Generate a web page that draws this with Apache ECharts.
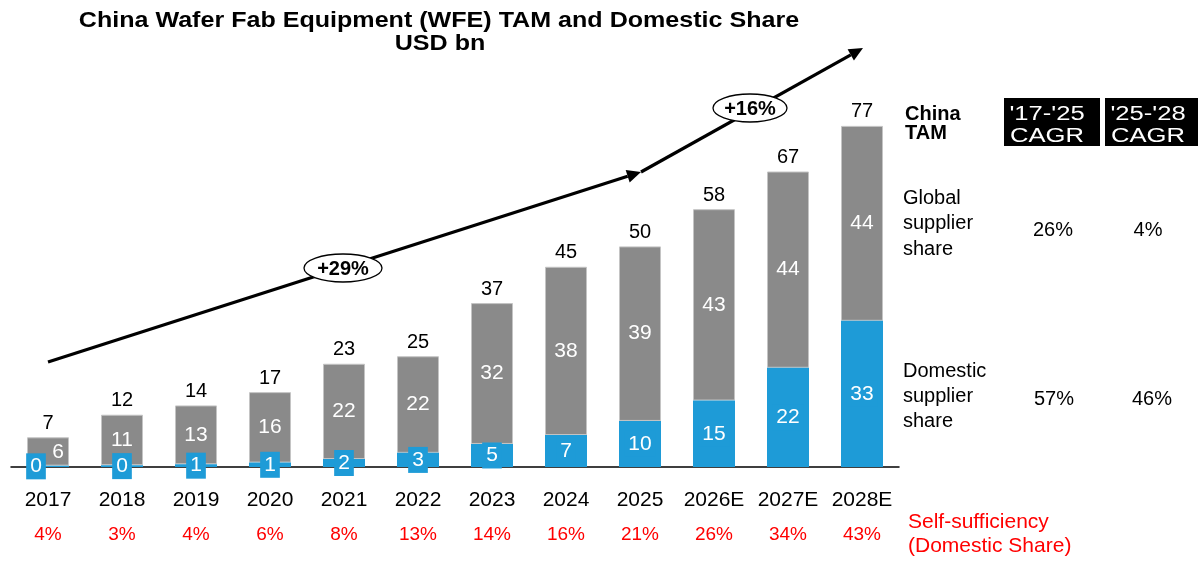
<!DOCTYPE html>
<html><head><meta charset="utf-8">
<script src="https://cdn.jsdelivr.net/npm/echarts@6/dist/echarts.min.js"></script>
<style>html,body{margin:0;padding:0;background:#fff}#c{width:1199px;height:562px}</style>
</head><body><div id="c"></div>
<script>
const years = ['2017','2018','2019','2020','2021','2022','2023','2024','2025','2026E','2027E','2028E'];
const domestic = [0.3,0.4,0.6,1.0,1.8,3.2,5.2,7.2,10.4,15.0,22.4,33.0];
const globalShare = [6.4,11.4,13.3,15.9,21.5,21.8,31.8,38.0,39.4,43.2,44.3,44.0];
const totals = [7,12,14,17,23,25,37,45,50,58,67,77];
const selfSufficiency = ['4%','3%','4%','6%','8%','13%','14%','16%','21%','26%','34%','43%'];

const F = '"Liberation Sans", Arial, sans-serif';
const chart = echarts.init(document.getElementById('c'));

function arrow(x1,y1,x2,y2){
  const a = Math.atan2(y2-y1,x2-x1), L=14, W=6.5;
  const bx = x2 - L*Math.cos(a), by = y2 - L*Math.sin(a);
  return [
    {type:'line',shape:{x1:x1,y1:y1,x2:bx,y2:by},style:{stroke:'#000',lineWidth:3.2}},
    {type:'polygon',shape:{points:[[x2,y2],[bx+W*Math.sin(a),by-W*Math.cos(a)],[bx-W*Math.sin(a),by+W*Math.cos(a)]]},style:{fill:'#000'}}
  ];
}
function bubble(cx,cy,rx,ry,t){
  return [
    {type:'ellipse',shape:{cx:cx,cy:cy,rx:rx,ry:ry},style:{fill:'#fff',stroke:'#000',lineWidth:1.3},z:10},
    {type:'text',x:cx,y:cy+1,style:{text:t,font:'bold 20px '+F,fill:'#000',align:'center',verticalAlign:'middle'},z:11}
  ];
}
function line(x,y,t,opt,sx){
  return {type:'text',x:x,y:y,scaleX:sx||1,z:12,
    style:Object.assign({text:t,font:'20px '+F,fill:'#000',verticalAlign:'middle',align:'left'},opt||{})};
}

const graphic = [].concat(
  arrow(48,362,641,172),
  arrow(641,172,863,48),
  bubble(343,268,39,14,'+29%'),
  bubble(750,108,37,14,'+16%'),
  [
    line(439,21,'China Wafer Fab Equipment (WFE) TAM and Domestic Share',{font:'bold 22px '+F,align:'center'},1.14),
    line(440,44,'USD bn',{font:'bold 22px '+F,align:'center'},1.14),
    line(905,114,'China',{font:'bold 20px '+F}),
    line(905,133,'TAM',{font:'bold 20px '+F}),
    {type:'rect',shape:{x:1004,y:98,width:96,height:48},style:{fill:'#000'}},
    {type:'rect',shape:{x:1105,y:98,width:93,height:48},style:{fill:'#000'}},
    line(1047,114,"'17-'25",{fill:'#fff',align:'center'},1.28),
    line(1047,136,'CAGR',{fill:'#fff',align:'center'},1.28),
    line(1148,114,"'25-'28",{fill:'#fff',align:'center'},1.28),
    line(1148,136,'CAGR',{fill:'#fff',align:'center'},1.28),
    line(903,198,'Global'),
    line(903,223,'supplier'),
    line(903,249,'share'),
    line(1053,230,'26%',{align:'center'}),
    line(1148,230,'4%',{align:'center'}),
    line(903,371,'Domestic'),
    line(903,396,'supplier'),
    line(903,421,'share'),
    line(1054,399,'57%',{align:'center'}),
    line(1152,399,'46%',{align:'center'}),
    line(908,522,'Self-sufficiency',{fill:'#ff0000',font:'21px '+F}),
    line(908,546,'(Domestic Share)',{fill:'#ff0000',font:'21px '+F})
  ]
);

chart.setOption({
  animation:false,
  textStyle:{fontFamily:F},
  grid:{left:11,width:888,top:112.6,bottom:95,containLabel:false},
  xAxis:[
    {type:'category',data:years,axisLine:{lineStyle:{color:'#000',width:1.5}},axisTick:{show:false},
     axisLabel:{color:'#000',fontSize:21,fontFamily:F,margin:23,interval:0,hideOverlap:false}},
    {type:'category',data:selfSufficiency,position:'bottom',offset:58,axisLine:{show:false},axisTick:{show:false},
     axisLabel:{color:'#ff0000',fontSize:19,fontFamily:F,margin:0,interval:0,hideOverlap:false}}
  ],
  yAxis:{type:'value',min:0,max:80,show:false,splitLine:{show:false}},
  series:[
    {type:'bar',name:'Domestic',stack:'t',data:domestic.map((v,i)=>i===0?{value:v,label:{offset:[-12,0]}}:v),
     barWidth:42,itemStyle:{color:'#1e9bd7'},
     label:{show:true,position:'inside',color:'#fff',fontSize:21,fontFamily:F,backgroundColor:'#1e9bd7',padding:[3,4,2,4],
       formatter:p=>Math.round(p.value)},z:3},
    {type:'bar',name:'Global',stack:'t',data:globalShare.map((v,i)=>i===0?{value:v,label:{offset:[10,1]}}:v),
     barWidth:42,itemStyle:{color:'#8a8a8a',borderColor:'#c4c4c4',borderWidth:1},
     label:{show:true,position:'inside',color:'#fff',fontSize:21,fontFamily:F,formatter:p=>Math.round(p.value)},z:2},
    {type:'bar',name:'Total',stack:'t',data:totals.map(()=>0),barWidth:42,itemStyle:{color:'transparent'},
     label:{show:true,position:'top',distance:4,color:'#000',fontSize:20,fontFamily:F,formatter:p=>totals[p.dataIndex]}}
  ],
  graphic:graphic
});
</script></body></html>
